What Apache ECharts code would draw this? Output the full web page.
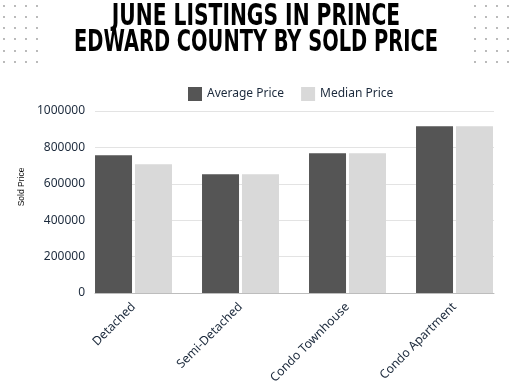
<!DOCTYPE html>
<html><head><meta charset="utf-8">
<script src="https://cdn.jsdelivr.net/npm/echarts@6/dist/echarts.min.js"></script>
<style>html,body{margin:0;padding:0;background:#fff}#c{width:512px;height:384px}</style>
</head><body><div id="c"></div>
<script>
const categories = ['Detached', 'Semi-Detached', 'Condo Townhouse', 'Condo Apartment'];
const averagePrice = [757000, 652000, 768000, 916000];
const medianPrice = [707000, 652000, 768000, 916000];
const titleLines = ['JUNE LISTINGS IN PRINCE', 'EDWARD COUNTY BY SOLD PRICE'];
const yMin = 0, yMax = 1000000, yStep = 200000;

const chart = echarts.init(document.getElementById('c'));
const txt = '#1c2a3c';
const font = 'Noto Sans';

const dots = [];
[[4,15,26,37],[475,486,497,508]].forEach(xs => {
  xs.forEach(x => [6,17,28,39,51,62].forEach(y => {
    dots.push({type:'circle', shape:{cx:x, cy:y, r:0.9}, style:{fill:'#9a9a9a'}, silent:true});
  }));
});

chart.setOption({
  backgroundColor: '#fff',
  animation: false,
  textStyle: {fontFamily: font},
  legend: {
    top: 82, left: 183, itemWidth: 14, itemHeight: 14, itemGap: 17,
    icon: 'rect',
    textStyle: {color: txt, fontSize: 12, fontFamily: font},
    data: ['Average Price', 'Median Price']
  },
  grid: [
    {left: 80, right: 4, top: 111, bottom: 91, containLabel: false, outerBoundsMode: 'none'},
    {left: 95, right: 18, top: 111, bottom: 91, containLabel: false, outerBoundsMode: 'none'}
  ],
  xAxis: [
    {type: 'category', gridIndex: 0, data: categories,
     axisLine: {show: false}, axisTick: {show: false},
     axisLabel: {rotate: 45, color: txt, fontSize: 12.2, fontFamily: font, margin: 12, interval: 0}},
    {type: 'category', gridIndex: 1, data: categories,
     axisLine: {show: true, lineStyle: {color: '#bdbdbd', width: 1}}, axisTick: {show: false},
     axisLabel: {show: false}}
  ],
  yAxis: [
    {type: 'value', gridIndex: 0, min: yMin, max: yMax, interval: yStep, show: false, splitLine: {show: false}},
    {type: 'value', gridIndex: 1, min: yMin, max: yMax, interval: yStep,
     axisLine: {show: false}, axisTick: {show: false},
     splitLine: {lineStyle: {color: '#e3e3e3', width: 1}},
     axisLabel: {color: txt, fontSize: 12, fontFamily: font, margin: 10, formatter: v => String(v)}}
  ],
  series: [
    {name: 'Average Price', type: 'bar', xAxisIndex: 0, yAxisIndex: 0, data: averagePrice,
     barWidth: 37, barGap: '8%', itemStyle: {color: '#555555'}},
    {name: 'Median Price', type: 'bar', xAxisIndex: 0, yAxisIndex: 0, data: medianPrice,
     barWidth: 37, barGap: '8%', itemStyle: {color: '#d9d9d9'}}
  ],
  graphic: [
    ...dots,
    {type: 'text', x: 256, y: 17, scaleX: 0.75, style: {text: titleLines[0], fill: '#000', font: 'bold 30px "DejaVu Sans Condensed"', textAlign: 'center', textVerticalAlign: 'middle'}},
    {type: 'text', x: 256, y: 43, scaleX: 0.72, style: {text: titleLines[1], fill: '#000', font: 'bold 30px "DejaVu Sans Condensed"', textAlign: 'center', textVerticalAlign: 'middle'}},
    {type: 'text', x: 22, y: 187, rotation: Math.PI/2, style: {text: 'Sold Price', fill: '#111', font: '8.5px "Liberation Sans"', textAlign: 'center', textVerticalAlign: 'middle'}}
  ]
});
</script></body></html>
